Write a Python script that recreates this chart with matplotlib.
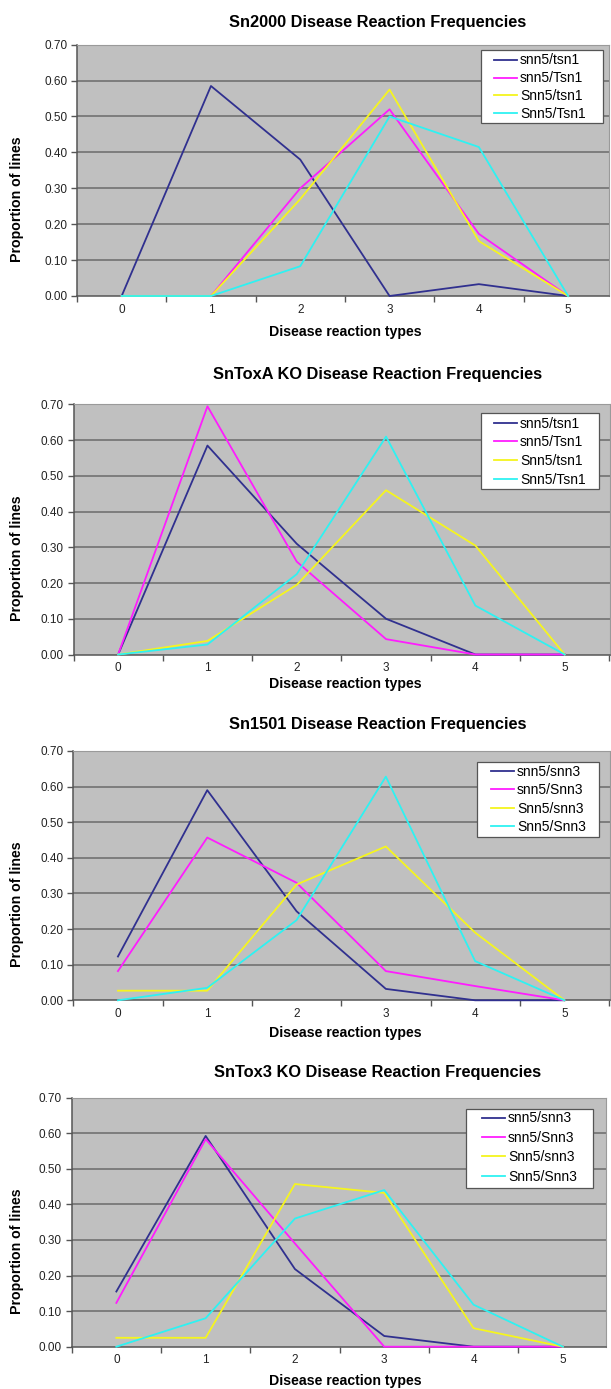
import matplotlib
matplotlib.use("Agg")
import matplotlib.pyplot as plt
from matplotlib.patches import Rectangle
from matplotlib.ticker import FixedLocator, FormatStrFormatter

plt.rcParams['font.family'] = ['Liberation Sans', 'DejaVu Sans']

categories = [0, 1, 2, 3, 4, 5]

titles = ["Sn2000 Disease Reaction Frequencies",
          "SnToxA KO Disease Reaction Frequencies",
          "Sn1501 Disease Reaction Frequencies",
          "SnTox3 KO Disease Reaction Frequencies"]

labels_tsn = ["snn5/tsn1", "snn5/Tsn1", "Snn5/tsn1", "Snn5/Tsn1"]
labels_snn = ["snn5/snn3", "snn5/Snn3", "Snn5/snn3", "Snn5/Snn3"]

# Sn2000
sn2000_snn5_tsn1 = [0.0, 0.585, 0.38, 0.0, 0.033, 0.0]
sn2000_snn5_Tsn1 = [0.0, 0.0, 0.30, 0.52, 0.173, 0.0]
sn2000_Snn5_tsn1 = [0.0, 0.0, 0.27, 0.575, 0.153, 0.0]
sn2000_Snn5_Tsn1 = [0.0, 0.0, 0.083, 0.50, 0.415, 0.0]

# SnToxA KO
toxa_snn5_tsn1 = [0.0, 0.585, 0.31, 0.10, 0.0, 0.0]
toxa_snn5_Tsn1 = [0.0, 0.695, 0.26, 0.043, 0.0, 0.0]
toxa_Snn5_tsn1 = [0.0, 0.038, 0.195, 0.46, 0.305, 0.0]
toxa_Snn5_Tsn1 = [0.0, 0.028, 0.225, 0.61, 0.137, 0.0]

# Sn1501
sn1501_snn5_snn3 = [0.123, 0.59, 0.25, 0.032, 0.0, 0.0]
sn1501_snn5_Snn3 = [0.082, 0.457, 0.33, 0.082, 0.04, 0.0]
sn1501_Snn5_snn3 = [0.027, 0.027, 0.325, 0.432, 0.19, 0.0]
sn1501_Snn5_Snn3 = [0.0, 0.035, 0.225, 0.628, 0.11, 0.0]

# SnTox3 KO
tox3_snn5_snn3 = [0.155, 0.592, 0.218, 0.03, 0.0, 0.0]
tox3_snn5_Snn3 = [0.123, 0.583, 0.29, 0.0, 0.0, 0.0]
tox3_Snn5_snn3 = [0.025, 0.025, 0.457, 0.432, 0.052, 0.0]
tox3_Snn5_Snn3 = [0.0, 0.08, 0.36, 0.44, 0.118, 0.0]

panels = [
    (titles[0], labels_tsn, [sn2000_snn5_tsn1, sn2000_snn5_Tsn1, sn2000_Snn5_tsn1, sn2000_Snn5_Tsn1]),
    (titles[1], labels_tsn, [toxa_snn5_tsn1, toxa_snn5_Tsn1, toxa_Snn5_tsn1, toxa_Snn5_Tsn1]),
    (titles[2], labels_snn, [sn1501_snn5_snn3, sn1501_snn5_Snn3, sn1501_Snn5_snn3, sn1501_Snn5_Snn3]),
    (titles[3], labels_snn, [tox3_snn5_snn3, tox3_snn5_Snn3, tox3_Snn5_snn3, tox3_Snn5_Snn3]),
]

colors = ["#30308f", "#ff1cff", "#f5f51e", "#2ef2f2"]

W, H = 611, 1389
fig = plt.figure(figsize=(W / 100, H / 100), dpi=100)
fig.patch.set_facecolor("white")

# pixel boxes: left, top, right, bottom
boxes = [(77, 44.7, 609, 296),
         (73.5, 404.5, 610, 654.5),
         (73.3, 751, 610, 1000.3),
         (71.7, 1097.5, 606, 1346.7)]
title_y = [22, 375, 725, 1073]
xlabel_y = [332, 684, 1033, 1381]
# legend frames: left, top, right, bottom (pixels)
legend_frames = [(481, 50, 603, 123),
                 (481, 413, 599, 489),
                 (477, 762, 599, 837),
                 (466, 1109, 593, 1188)]
legend_handle_x = [494, 494, 491, 482]
legend_first_y = [60, 423, 771.5, 1118]
legend_spacing = [0.28, 0.34, 0.31, 0.39]
spacing = 89.3

for i, (title, labs, series) in enumerate(panels):
    l, t, r, b = boxes[i]
    ax = fig.add_axes([l / W, 1 - b / H, (r - l) / W, (b - t) / H])
    ax.set_facecolor("#c0c0c0")
    ax.set_xlim(-0.5, -0.5 + (r - l) / spacing)
    ax.set_ylim(0, 0.70)
    yt = [k / 10 for k in range(8)]
    ax.set_yticks(yt)
    ax.yaxis.set_major_formatter(FormatStrFormatter("%.2f"))
    for y in yt[1:]:
        ax.axhline(y, color="#6a6a6a", lw=1.1, zorder=1)
    ax.set_xticks(categories)
    ax.set_xticklabels([str(c) for c in categories])
    ax.tick_params(axis="x", length=0, pad=5.5, labelsize=8.5, colors="#222222")
    ax.xaxis.set_minor_locator(FixedLocator([k + 0.5 for k in range(-1, 6)]))
    ax.tick_params(axis="x", which="minor", length=4, width=1, color="#555555", direction="out")
    ax.tick_params(axis="y", length=4, width=1, color="#555555", labelsize=8.5,
                   labelcolor="#222222", pad=3)
    for side in ["left", "bottom"]:
        ax.spines[side].set_color("#555555")
        ax.spines[side].set_linewidth(1.1)
    for side in ["top", "right"]:
        ax.spines[side].set_color("#9a9a9a")
        ax.spines[side].set_linewidth(0.8)
    handles = []
    for s, lab, c in zip(series, labs, colors):
        h, = ax.plot(categories, s, color=c, lw=1.3, label=lab, zorder=3, clip_on=False)
        handles.append(h)

    fl, ft, fr, fb = legend_frames[i]
    frame = Rectangle((fl / W, 1 - fb / H), (fr - fl) / W, (fb - ft) / H,
                      transform=fig.transFigure, facecolor="white",
                      edgecolor="#555555", linewidth=0.9, zorder=5)
    fig.add_artist(frame)
    row_h = 13.0
    leg = fig.legend(handles=handles, loc="upper left",
                     bbox_to_anchor=(legend_handle_x[i] / W,
                                     1 - (legend_first_y[i] - row_h / 2) / H),
                     frameon=False, fontsize=10, handlelength=1.66,
                     handletextpad=0.2, borderpad=0, labelspacing=legend_spacing[i],
                     borderaxespad=0)
    leg.set_zorder(6)

    fig.text(378 / W, 1 - title_y[i] / H, title, ha="center", va="center",
             fontsize=11.8, fontweight="bold")
    fig.text(345 / W, 1 - xlabel_y[i] / H, "Disease reaction types", ha="center",
             va="center", fontsize=10.2, fontweight="bold")
    fig.text(17.5 / W, 1 - ((t + b) / 2 + 29) / H, "Proportion of lines", ha="center",
             va="center", rotation=90, fontsize=10.2, fontweight="bold")

fig.savefig("out.png", dpi=100)
